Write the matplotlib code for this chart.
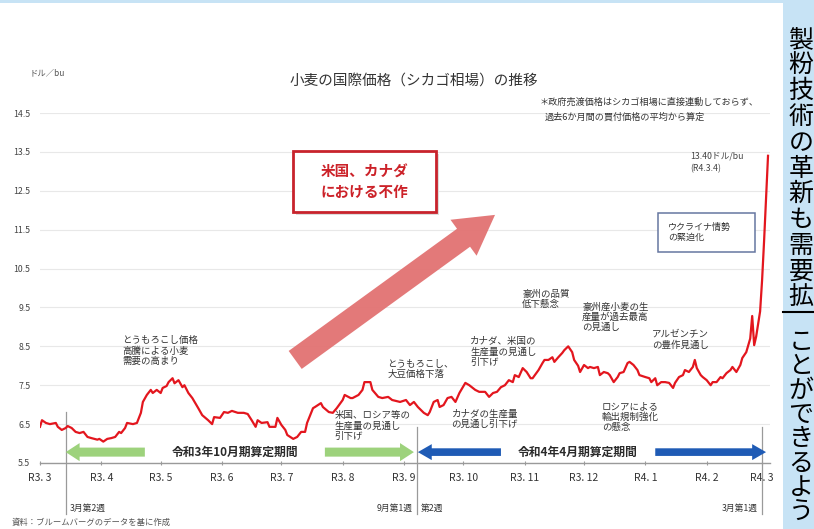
import matplotlib
matplotlib.use('Agg')
import matplotlib.pyplot as plt
from matplotlib.patches import FancyArrowPatch, Rectangle
import pandas as pd

plt.rcParams['font.family'] = ['Noto Sans CJK JP', 'DejaVu Sans']

W, H = 814, 529

# days since 2021-03-01 (R3.3.1) and Chicago wheat price (US$/bu)
days = [0, 1, 3, 5, 8, 9, 11, 13, 14, 16, 18, 20, 22, 24, 26, 29, 30, 32, 34, 36,
        38, 40, 41, 43, 44, 47, 49, 51, 52, 54, 56, 57, 59, 61, 62, 64, 65, 67, 68, 70,
        72, 73, 75, 77, 80, 82, 85, 87, 88, 91, 93, 95, 97, 100, 103, 105, 107, 109, 110, 112,
        115, 116, 119, 120, 122, 124, 125, 128, 130, 132, 134, 135, 138, 139, 142, 143, 146, 148, 150, 153,
        154, 157, 158, 161, 163, 164, 167, 168, 171, 173, 176, 178, 182, 185, 187, 189, 191, 194, 196, 197,
        199, 201, 202, 204, 206, 208, 210, 212, 215, 217, 220, 222, 225, 227, 229, 231, 233, 235, 237, 239,
        240, 242, 244, 246, 248, 249, 252, 254, 255, 257, 259, 260, 262, 264, 265, 267, 269, 270, 272, 273,
        275, 277, 278, 280, 282, 283, 285, 287, 288, 290, 292, 293, 295, 297, 298, 300, 302, 303, 306, 308,
        309, 311, 312, 314, 316, 318, 320, 321, 323, 325, 326, 328, 330, 331, 332, 334, 335, 337, 339, 340,
        342, 344, 345, 347, 349, 350, 352, 354, 355, 357, 359, 360, 361, 362, 364, 365, 366, 367, 368]
prices = [6.43, 6.60, 6.53, 6.50, 6.53, 6.43, 6.35, 6.40, 6.45, 6.40, 6.30, 6.27, 6.30, 6.17, 6.14, 6.10, 6.12, 6.05, 6.12, 6.14,
          6.17, 6.30, 6.27, 6.40, 6.53, 6.50, 6.53, 6.79, 7.07, 7.25, 7.38, 7.30, 7.38, 7.30, 7.43, 7.48, 7.58, 7.68, 7.55, 7.63,
          7.45, 7.50, 7.30, 7.17, 6.91, 6.73, 6.60, 6.50, 6.68, 6.66, 6.81, 6.79, 6.84, 6.79, 6.79, 6.76, 6.60, 6.43, 6.60, 6.53,
          6.55, 6.43, 6.43, 6.66, 6.48, 6.35, 6.22, 6.12, 6.17, 6.30, 6.30, 6.53, 6.91, 6.94, 7.04, 6.94, 6.81, 6.79, 6.91, 7.12,
          7.25, 7.17, 7.17, 7.25, 7.38, 7.58, 7.58, 7.38, 7.20, 7.17, 7.20, 7.12, 7.07, 7.12, 6.99, 7.07, 6.94, 6.79, 6.73, 6.81,
          7.07, 7.12, 6.94, 6.99, 7.17, 7.20, 7.07, 7.30, 7.56, 7.50, 7.38, 7.33, 7.33, 7.20, 7.30, 7.33, 7.45, 7.50, 7.63, 7.58,
          7.76, 7.71, 7.94, 7.84, 7.68, 7.68, 7.89, 8.07, 8.15, 8.15, 8.22, 8.10, 8.22, 8.33, 8.40, 8.50, 8.35, 8.15, 8.00, 7.84,
          8.02, 7.94, 7.97, 7.94, 7.97, 7.76, 7.84, 7.81, 7.76, 7.58, 7.71, 7.81, 7.84, 8.07, 8.10, 8.02, 7.89, 7.76, 7.71, 7.68,
          7.58, 7.68, 7.50, 7.58, 7.58, 7.56, 7.43, 7.56, 7.71, 7.76, 7.89, 7.84, 7.97, 8.15, 7.94, 7.76, 7.71, 7.63, 7.50, 7.58,
          7.58, 7.71, 7.68, 7.81, 7.89, 7.97, 7.84, 8.02, 8.20, 8.35, 8.70, 9.28, 8.53, 8.75, 9.40, 10.20, 11.20, 12.30, 13.40]

month_labels = ['R3. 3', 'R3. 4', 'R3. 5', 'R3. 6', 'R3. 7', 'R3. 8', 'R3. 9',
                'R3. 10', 'R3. 11', 'R3. 12', 'R4. 1', 'R4. 2', 'R4. 3']
y_ticks = [5.5, 6.5, 7.5, 8.5, 9.5, 10.5, 11.5, 12.5, 13.5, 14.5]

sidebar_top = '製粉技術の革新も需要拡'
sidebar_bottom = 'ことができるよう'


def fx(px):
    return px / W


def fy(py):
    return 1 - py / H


fig = plt.figure(figsize=(W / 100, H / 100), dpi=100)
fig.patch.set_facecolor('white')

# ---- main axes ----
ax = fig.add_axes([fx(40), fy(463), (770 - 40) / W, (463 - 113) / H])
ax.plot(days, prices, color='#e3161e', lw=1.6, zorder=5)

start = pd.Timestamp('2021-03-01')
month_pos = [(d - start).days for d in pd.date_range('2021-03-01', '2022-03-01', freq='MS')]
ax.set_xticks(month_pos)
ax.set_xticklabels(month_labels, fontsize=7.5, color='#333333')
ax.set_yticks(y_ticks)
ax.set_yticklabels([f'{v:.1f}' for v in y_ticks], fontsize=6.3, color='#444444')
ax.set_xlim(0, 369)
ax.set_ylim(5.5, 14.5)
ax.tick_params(axis='x', length=3, direction='inout', color='#999999', pad=6)
ax.tick_params(axis='y', length=0, pad=7)
for s in ['top', 'right', 'left']:
    ax.spines[s].set_visible(False)
ax.spines['bottom'].set_color('#9a9a9a')
ax.spines['bottom'].set_linewidth(1.0)
ax.grid(axis='y', color='#e8e8e8', lw=0.8)
ax.set_axisbelow(True)

# ---- big trend arrow + red box ----
ax.add_patch(FancyArrowPatch((129, 8.15), (230, 11.88),
                             arrowstyle='simple,head_width=0.8,head_length=0.7,tail_width=0.4',
                             mutation_scale=40, color='#e27272', alpha=0.95, lw=0,
                             shrinkA=0, shrinkB=0, zorder=3))
ax.add_patch(Rectangle((129.5, 11.88), 72, 1.57, facecolor='#dddddd', edgecolor='none', zorder=3))
ax.add_patch(Rectangle((128, 11.95), 72, 1.57, facecolor='white', edgecolor='#c8232c', lw=2, zorder=4))
ax.text(164, 12.73, '米国、カナダ\nにおける不作', ha='center', va='center', fontsize=10.5,
        fontweight='bold', color='#cc2229', linespacing=1.3, zorder=6)

# ---- Ukraine box & peak label ----
ax.add_patch(Rectangle((312.5, 10.92), 49, 1.01, facecolor='white', edgecolor='#6676a0', lw=1.1, zorder=4))
ax.text(317.5, 11.43, 'ウクライナ情勢\nの緊迫化', ha='left', va='center', fontsize=6.5,
        color='#333333', linespacing=1.25, zorder=6)
ax.text(328.6, 13.22, '13.40ドル/bu\n(R4.3.4)', ha='left', va='center', fontsize=6.3,
        color='#444444', linespacing=1.5, zorder=6)

# ---- event annotations ----
notes = [
    (41.5, 8.38, 'とうもろこし価格\n高騰による小麦\n需要の高まり'),
    (175.5, 7.90, 'とうもろこし、\n大豆価格下落'),
    (149, 6.45, '米国、ロシア等の\n生産量の見通し\n引下げ'),
    (217.5, 8.35, 'カナダ、米国の\n生産量の見通し\n引下げ'),
    (208, 6.63, 'カナダの生産量\nの見通し引下げ'),
    (243.8, 9.72, '豪州の品質\n低下懸念'),
    (274, 9.25, '豪州産小麦の生\n産量が過去最高\nの見通し'),
    (309.5, 8.66, 'アルゼンチン\nの豊作見通し'),
    (284, 6.68, 'ロシアによる\n輸出規制強化\nの懸念'),
]
for x, y, t in notes:
    ax.text(x, y, t, ha='left', va='center', fontsize=6.8, color='#333333', linespacing=1.15, zorder=6)

# ---- calculation period arrows ----
y_arr = 5.78
green = '#9dd27c'
blue = '#1f5bb5'
for a, b, c, tw, hw in [(53, 13, green, 0.65, 1.3), (144, 189, green, 0.65, 1.3),
                        (233, 191, blue, 0.55, 1.15), (311, 367, blue, 0.55, 1.15)]:
    ax.add_patch(FancyArrowPatch((a, y_arr), (b, y_arr),
                                 arrowstyle=f'simple,head_width={hw},head_length=1.0,tail_width={tw}',
                                 mutation_scale=10, color=c, lw=0, shrinkA=0, shrinkB=0,
                                 clip_on=False, zorder=4))
ax.text(98.6, y_arr, '令和3年10月期算定期間', ha='center', va='center', fontsize=8.5,
        fontweight='bold', color='#2a2a2a', zorder=6)
ax.text(272, y_arr, '令和4年4月期算定期間', ha='center', va='center', fontsize=8.5,
        fontweight='bold', color='#2a2a2a', zorder=6)

# ---- week markers ----
for d, top in [(13, 6.8), (190.5, 6.43), (365, 6.43)]:
    ax.plot([d, d], [top, 4.2], color='#9a9a9a', lw=0.9, clip_on=False, zorder=2)
ax.text(15, 4.32, '3月第2週', ha='left', va='center', fontsize=6.3, color='#333333')
ax.text(188.5, 4.32, '9月第1週', ha='right', va='center', fontsize=6.3, color='#333333')
ax.text(192.5, 4.32, '第2週', ha='left', va='center', fontsize=6.3, color='#333333')
ax.text(363, 4.32, '3月第1週', ha='right', va='center', fontsize=6.3, color='#333333')

# ---- titles / notes outside axes ----
fig.text(fx(414), fy(82), '小麦の国際価格（シカゴ相場）の推移', ha='center', va='center',
         fontsize=10.5, color='#333333')
fig.text(fx(30), fy(73), 'ドル／bu', ha='left', va='center', fontsize=6, color='#555555')
fig.text(fx(540), fy(102), '＊政府売渡価格はシカゴ相場に直接連動しておらず、', ha='left', va='center',
         fontsize=6.6, color='#333333')
fig.text(fx(545), fy(117), '過去6か月間の買付価格の平均から算定', ha='left', va='center',
         fontsize=6.6, color='#333333')
fig.text(fx(12), fy(522), '資料：ブルームバーグのデータを基に作成', ha='left', va='center',
         fontsize=6, color='#555555')

# ---- page frame: top band + right sidebar ----
side_blue = '#c7e3f5'
fig.patches.append(Rectangle((0, fy(3)), fx(783), 3 / H, transform=fig.transFigure,
                             facecolor=side_blue, edgecolor='none', zorder=0))
fig.patches.append(Rectangle((fx(783), 0), 1 - fx(783), 1, transform=fig.transFigure,
                             facecolor=side_blue, edgecolor='none', zorder=0))
fig.add_artist(plt.Line2D([fx(783), 1], [fy(312), fy(312)], transform=fig.transFigure,
                          color='black', lw=1.5))
for i, ch in enumerate(sidebar_top):
    fig.text(fx(801), fy(40 + 25.7 * i), ch, ha='center', va='center', fontsize=18, color='black')
for i, ch in enumerate(sidebar_bottom):
    fig.text(fx(801), fy(342 + 24.3 * i), ch, ha='center', va='center', fontsize=18, color='black')

fig.savefig('out.png', dpi=100)
